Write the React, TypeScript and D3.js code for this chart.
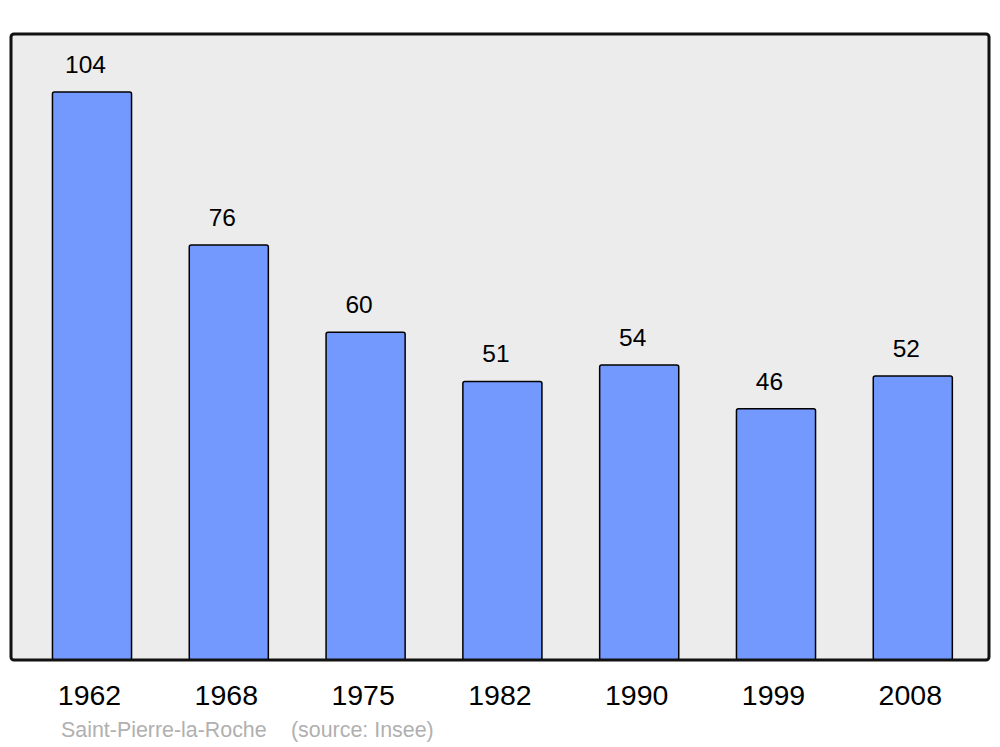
import React from "react";
import * as d3 from "d3";

const years = ["1962", "1968", "1975", "1982", "1990", "1999", "2008"];
const population = [104, 76, 60, 51, 54, 46, 52];
const townName = "Saint-Pierre-la-Roche";
const sourceText = "(source: Insee)";

export default function App() {
  const W = 1000, H = 747;
  const panel = { x: 11, y: 34, w: 978, h: 626 };
  const x = d3.scaleBand<string>().domain(years).range([23.6, 981.2]).paddingInner(0.422).paddingOuter(0.211);
  const y = d3.scaleLinear().domain([0, 104]).range([660, 92]);
  const font = "'Liberation Sans', Arial, sans-serif";
  return (
    <svg width={W} height={H} style={{ position: "absolute", left: 0, top: 0 }}>
      <rect x={0} y={0} width={W} height={H} fill="#ffffff" />
      <rect x={panel.x} y={panel.y} width={panel.w} height={panel.h} rx={3} ry={3} fill="#ececec" stroke="none" />
      {years.map((yr, i) => {
        const bx = x(yr)!;
        const bw = x.bandwidth();
        const top = y(population[i]);
        return (
          <g key={yr}>
            <rect x={bx} y={top} width={bw} height={y(0) - top} rx={2} ry={2} fill="#7399ff" stroke="#000" strokeWidth={1.5} />
            <text x={bx + bw / 2 - 6.5} y={top - 19} textAnchor="middle" fontFamily={font} fontSize={24.5} fill="#000">
              {population[i]}
            </text>
            <text x={bx + bw / 2 - 2.5} y={705} textAnchor="middle" fontFamily={font} fontSize={28.5} fill="#000">
              {yr}
            </text>
          </g>
        );
      })}
      <rect x={panel.x} y={panel.y} width={panel.w} height={panel.h} rx={3} ry={3} fill="none" stroke="#111" strokeWidth={3} />
      <text x={61} y={737} fontFamily={font} fontSize={21.4} fill="#b0b0b0">{townName}</text>
      <text x={291} y={737} fontFamily={font} fontSize={21.4} fill="#b0b0b0">{sourceText}</text>
    </svg>
  );
}
